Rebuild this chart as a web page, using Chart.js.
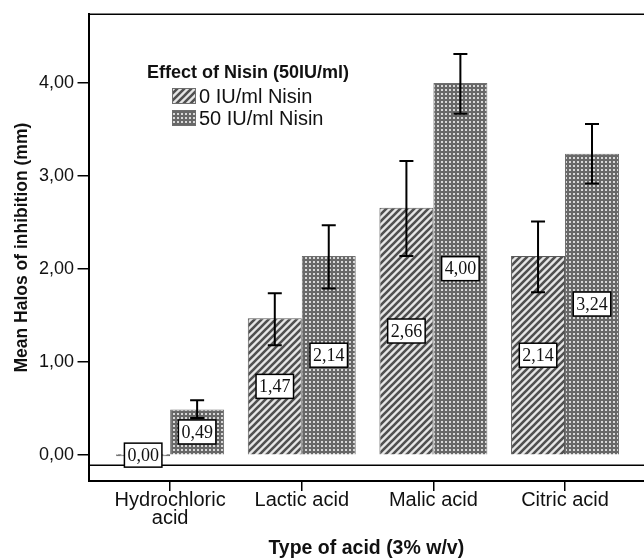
<!DOCTYPE html>
<html>
<head>
<meta charset="utf-8">
<script src="https://cdn.jsdelivr.net/npm/chart.js@4.4.1/dist/chart.umd.min.js"></script>
<style>
  html, body { margin: 0; padding: 0; background: #fff; }
  canvas { display: block; }
</style>
</head>
<body>
<canvas id="chart" width="644" height="558"></canvas>
<script>
// Data
const categories = [['Hydrochloric', 'acid'], 'Lactic acid', 'Malic acid', 'Citric acid'];
const seriesNames = ['0 IU/ml Nisin', '50 IU/ml Nisin'];
const nisin0 = [0.00, 1.47, 2.66, 2.14];
const nisin50 = [0.49, 2.14, 4.00, 3.24];
// error bar ends
const nisin0Low = [0.00, 1.18, 2.14, 1.75];
const nisin0High = [0.00, 1.74, 3.16, 2.51];
const nisin50Low = [0.40, 1.79, 3.67, 2.92];
const nisin50High = [0.59, 2.47, 4.31, 3.56];
const yTicks = [0, 1, 2, 3, 4];
const refLine = -0.11;
const legendTitle = 'Effect of Nisin (50IU/ml)';

const fmt = v => v.toFixed(2).replace('.', ',');
const toPoints = vals => vals.map((v, i) => ({ x: i, y: v }));

function stripePattern() {
  const s = 7;
  const c = document.createElement('canvas');
  c.width = s; c.height = s;
  const g = c.getContext('2d');
  g.fillStyle = '#e6e6e6';
  g.fillRect(0, 0, s, s);
  g.strokeStyle = '#505050';
  g.lineWidth = 2.6;
  g.beginPath();
  g.moveTo(0, s); g.lineTo(s, 0);
  g.moveTo(-s / 2, s / 2); g.lineTo(s / 2, -s / 2);
  g.moveTo(s / 2, s * 1.5); g.lineTo(s * 1.5, s / 2);
  g.stroke();
  return g.createPattern(c, 'repeat');
}

function dotPattern() {
  const c = document.createElement('canvas');
  c.width = 4; c.height = 4;
  const g = c.getContext('2d');
  g.fillStyle = '#686868';
  g.fillRect(0, 0, 4, 4);
  g.fillStyle = '#d8d8d8';
  g.fillRect(1, 1, 2, 2);
  return g.createPattern(c, 'repeat');
}

const ctx = document.getElementById('chart').getContext('2d');
const stripes = stripePattern();
const dots = dotPattern();

// frame, reference line, error bars, value boxes and legend
const decor = {
  id: 'decor',
  beforeDatasetsDraw(chart) {
    const { ctx, chartArea: a, scales: { y } } = chart;
    const ry = y.getPixelForValue(refLine);
    ctx.save();
    ctx.strokeStyle = '#000';
    ctx.lineWidth = 1.5;
    ctx.beginPath();
    ctx.moveTo(a.left, ry); ctx.lineTo(a.right, ry);
    ctx.moveTo(a.left, a.top); ctx.lineTo(a.right, a.top);
    ctx.stroke();
    ctx.restore();
  },
  afterDatasetsDraw(chart) {
    const { ctx, scales: { y } } = chart;
    ctx.save();
    ctx.strokeStyle = '#000';
    ctx.lineWidth = 2;
    chart.data.datasets.forEach((ds, di) => {
      chart.getDatasetMeta(di).data.forEach((bar, i) => {
        const lo = y.getPixelForValue(ds.low[i]);
        const hi = y.getPixelForValue(ds.high[i]);
        ctx.beginPath();
        ctx.moveTo(bar.x, lo); ctx.lineTo(bar.x, hi);
        ctx.moveTo(bar.x - 7, lo); ctx.lineTo(bar.x + 7, lo);
        ctx.moveTo(bar.x - 7, hi); ctx.lineTo(bar.x + 7, hi);
        ctx.stroke();
      });
    });
    ctx.font = '18px "Liberation Serif", serif';
    ctx.textAlign = 'center';
    ctx.textBaseline = 'middle';
    ctx.lineWidth = 1.5;
    chart.data.datasets.forEach((ds, di) => {
      chart.getDatasetMeta(di).data.forEach((bar, i) => {
        const txt = fmt(ds.data[i].y);
        const w = ctx.measureText(txt).width + 6;
        const h = 24;
        const cy = (bar.y + bar.base) / 2;
        ctx.fillStyle = '#fff';
        ctx.fillRect(bar.x - w / 2, cy - h / 2, w, h);
        ctx.strokeRect(bar.x - w / 2, cy - h / 2, w, h);
        ctx.fillStyle = '#111';
        ctx.fillText(txt, bar.x, cy + 1);
      });
    });
    ctx.restore();
  },
  afterDraw(chart) {
    const { ctx } = chart;
    ctx.save();
    ctx.textBaseline = 'middle';
    ctx.textAlign = 'left';
    ctx.fillStyle = '#111';
    ctx.font = 'bold 18px "Liberation Sans", Arial, sans-serif';
    ctx.fillText(legendTitle, 147, 73);
    ctx.font = '20px "Liberation Sans", Arial, sans-serif';
    chart.data.datasets.forEach((ds, i) => {
      const cy = 96 + i * 22;
      ctx.fillStyle = ds.backgroundColor;
      ctx.fillRect(172, cy - 8, 24, 16);
      ctx.strokeStyle = '#6e6e6e';
      ctx.lineWidth = 1;
      ctx.strokeRect(172.5, cy - 7.5, 23, 15);
      ctx.fillStyle = '#111';
      ctx.fillText(ds.label, 199, cy + 1);
    });
    ctx.restore();
  }
};

new Chart(ctx, {
  type: 'bar',
  data: {
    datasets: [
      {
        label: seriesNames[0],
        data: toPoints(nisin0),
        low: nisin0Low,
        high: nisin0High,
        backgroundColor: stripes,
        borderColor: '#5a5a5a',
        borderWidth: 1,
        minBarLength: 2
      },
      {
        label: seriesNames[1],
        data: toPoints(nisin50),
        low: nisin50Low,
        high: nisin50High,
        backgroundColor: dots,
        borderColor: '#6e6e6e',
        borderWidth: 1
      }
    ]
  },
  options: {
    responsive: false,
    animation: false,
    categoryPercentage: 0.82,
    barPercentage: 1,
    layout: { padding: { top: 12, left: 0, right: 0, bottom: 0 } },
    plugins: {
      legend: { display: false },
      tooltip: { enabled: false }
    },
    scales: {
      x: {
        type: 'linear',
        min: -0.62,
        max: 3.6,
        offset: false,
        afterBuildTicks: s => { s.ticks = categories.map((c, i) => ({ value: i })); },
        ticks: {
          callback: v => categories[v],
          autoSkip: false,
          maxRotation: 0,
          minRotation: 0,
          padding: 1,
          color: '#111',
          font: { family: 'Liberation Sans', size: 20, lineHeight: 0.87 }
        },
        grid: { display: true, offset: false, drawOnChartArea: false, tickLength: 10, color: '#000', lineWidth: 1.5 },
        border: { display: true, color: '#000', width: 2 },
        title: {
          display: true,
          text: 'Type of acid (3% w/v)',
          color: '#111',
          font: { family: 'Liberation Sans', size: 19.5, weight: 'bold', lineHeight: 1.0 },
          padding: { top: 10.7, bottom: 0 }
        }
      },
      y: {
        min: -0.278,
        max: 4.738,
        afterBuildTicks: s => { s.ticks = yTicks.map(v => ({ value: v })); },
        ticks: {
          callback: v => fmt(v),
          padding: 3.5,
          color: '#111',
          font: { family: 'Liberation Sans', size: 18 }
        },
        grid: { display: true, drawOnChartArea: false, tickLength: 11, color: '#000', lineWidth: 1.5 },
        border: { display: true, color: '#000', width: 2 },
        title: {
          display: true,
          text: 'Mean Halos of inhibition (mm)',
          color: '#111',
          font: { family: 'Liberation Sans', size: 17.5, weight: 'bold', lineHeight: 1.2 },
          padding: { top: 11.5, bottom: 3 }
        }
      }
    }
  },
  plugins: [decor]
});
</script>
</body>
</html>
